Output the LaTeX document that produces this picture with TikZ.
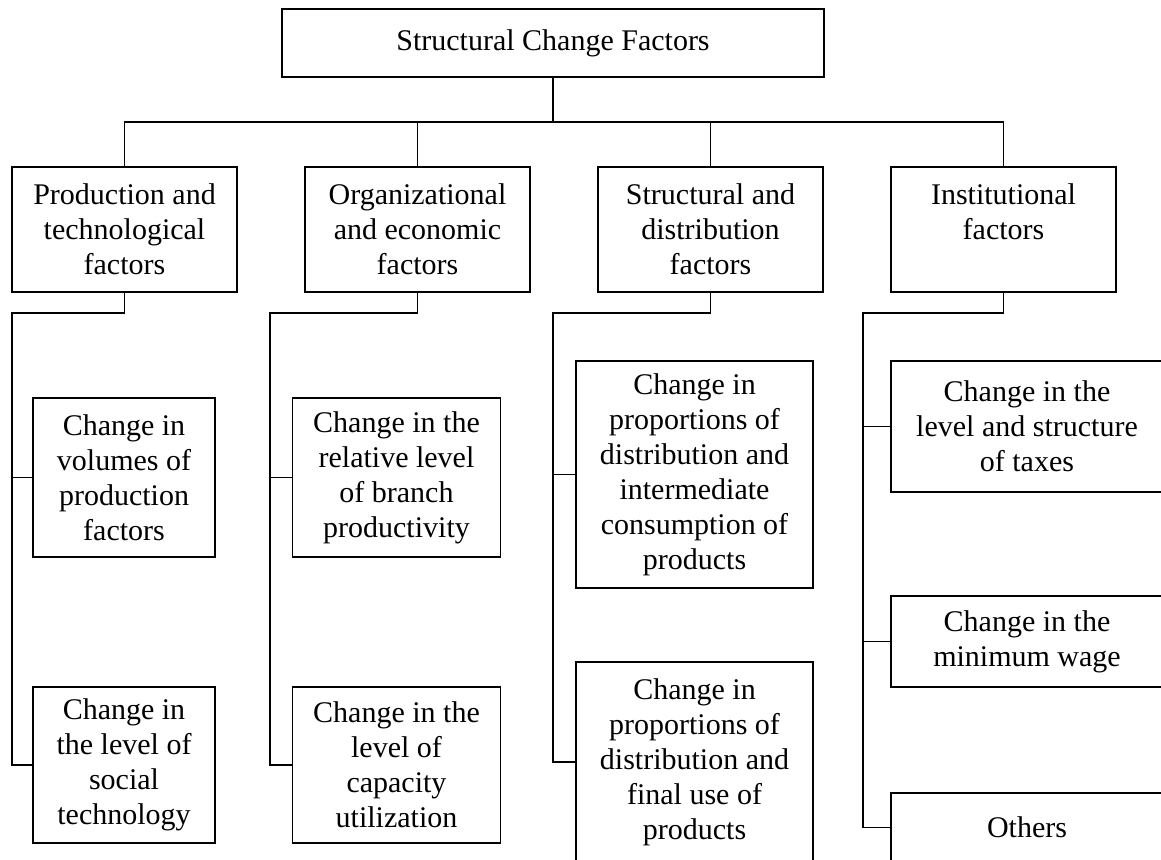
\documentclass[tikz,border=0pt]{standalone}
\usepackage{fontspec}
\setmainfont{Liberation Serif}
\begin{document}
\begin{tikzpicture}[x=1pt,y=-1pt,
  box/.style={draw, line width=1.2pt, inner sep=0pt, align=center, font=\fontsize{30}{35}\selectfont},
  conn/.style={line width=1.2pt}]
\useasboundingbox (0,0) rectangle (1161,859);
\clip (0,0) rectangle (1161,859);
% root
\node[box, minimum width=542, minimum height=68] (root) at (553,43) {Structural Change Factors};
% level 2
\node[box, minimum width=225, minimum height=125] (p) at (124.5,229.5) {Production and\\technological\\factors};
\node[box, minimum width=225, minimum height=125] (o) at (417.5,229.5) {Organizational\\and economic\\factors};
\node[box, minimum width=225, minimum height=125] (s) at (710.5,229.5) {Structural and\\distribution\\factors};
\node[box, minimum width=225, minimum height=125] (i) at (1003.5,229.5) {Institutional\\factors\\\mbox{}};
% column 1
\node[box, minimum width=182, minimum height=159] (c1a) at (124,477.5) {Change in\\volumes of\\production\\factors};
\node[box, minimum width=182, minimum height=156] (c1b) at (124,765) {Change in\\the level of\\social\\technology};
% column 2
\node[box, minimum width=208, minimum height=159] (c2a) at (396.5,477.5) {Change in the\\relative level\\of branch\\productivity};
\node[box, minimum width=208, minimum height=156] (c2b) at (396.5,765) {Change in the\\level of\\capacity\\utilization};
% column 3
\node[box, minimum width=237, minimum height=227] (c3a) at (694.5,474.5) {Change in\\proportions of\\distribution and\\intermediate\\consumption of\\products};
\node[box, minimum width=237, minimum height=200] (c3b) at (694.5,762) {Change in\\proportions of\\distribution and\\final use of\\products};
% column 4
\node[box, minimum width=272, minimum height=131] (c4a) at (1027,426.5) {Change in the\\level and structure\\of taxes};
\node[box, minimum width=272, minimum height=91] (c4b) at (1027,641.5) {Change in the\\minimum wage};
\node[box, minimum width=272, minimum height=69] (c4c) at (1027,827.5) {Others};
% connectors top
\coordinate (b) at (553,122);
\draw[conn] (root.south) -- (b);
\draw[conn] (p.north) |- (b) -| (i.north);
\draw[conn] (o.north) -- (o.north |- b);
\draw[conn] (s.north) -- (s.north |- b);
% spines
\coordinate (s1) at (12,313);
\coordinate (s2) at (270,313);
\coordinate (s3) at (553,313);
\coordinate (s4) at (863,313);
\draw[conn] (p.south) |- (s1) |- (c1b.west);
\draw[conn] (s1 |- c1a.west) -- (c1a.west);
\draw[conn] (o.south) |- (s2) |- (c2b.west);
\draw[conn] (s2 |- c2a.west) -- (c2a.west);
\draw[conn] (s.south) |- (s3) |- (c3b.west);
\draw[conn] (s3 |- c3a.west) -- (c3a.west);
\draw[conn] (i.south) |- (s4) |- (c4c.west);
\draw[conn] (s4 |- c4a.west) -- (c4a.west);
\draw[conn] (s4 |- c4b.west) -- (c4b.west);
\end{tikzpicture}
\end{document}
